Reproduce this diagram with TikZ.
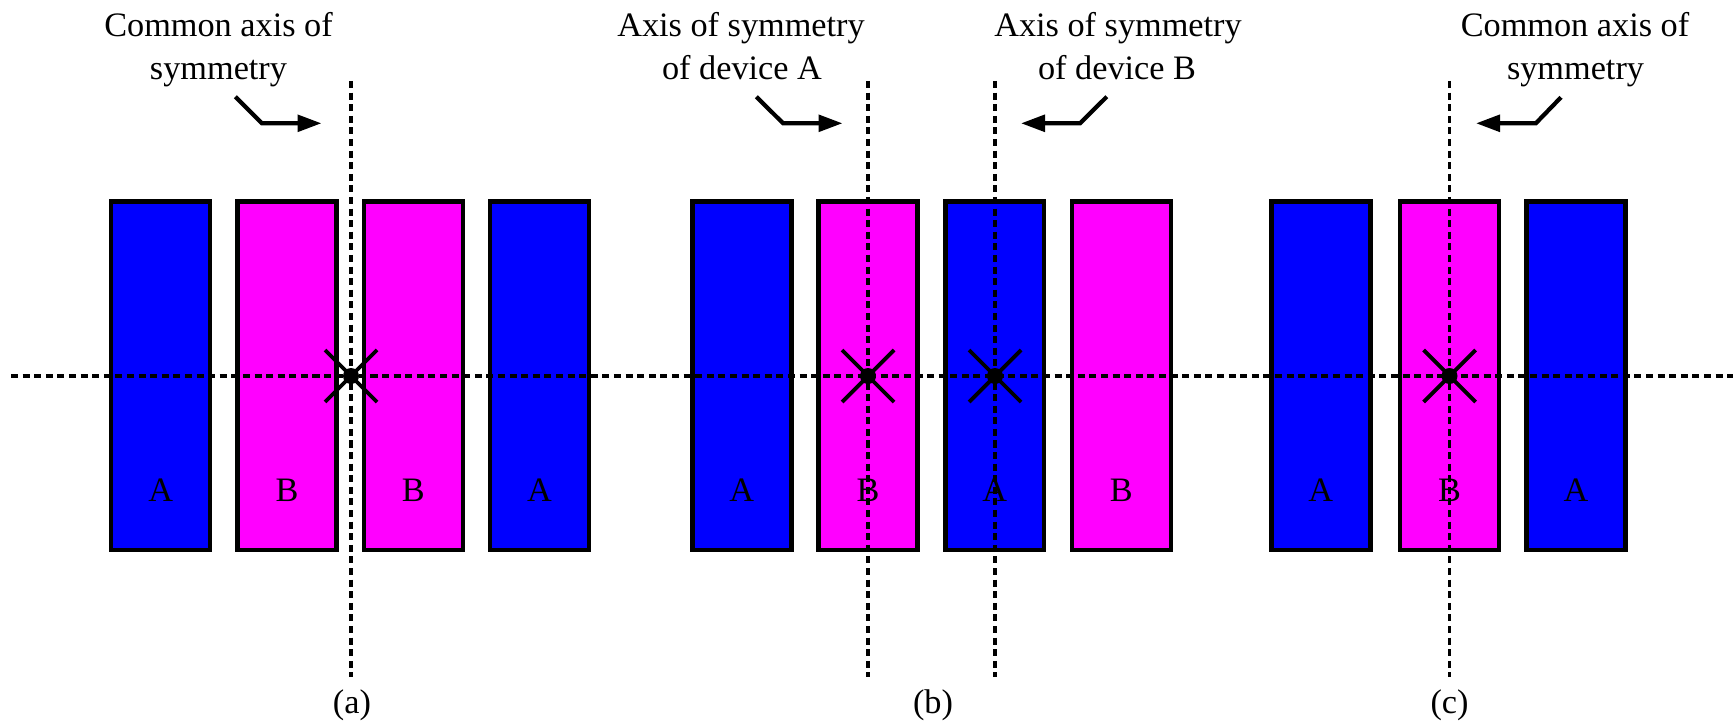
\documentclass[tikz,border=0pt]{standalone}
\usepackage{fontspec}
\setmainfont{Liberation Serif}
\usetikzlibrary{arrows.meta}
\definecolor{devblue}{RGB}{0,0,255}
\definecolor{devmag}{RGB}{255,0,255}
\begin{document}
\begin{tikzpicture}[x=0.02cm,y=-0.02cm,
  dev/.style={draw=black, line width=2.6pt, minimum width=1.98cm, minimum height=6.97cm, inner sep=0pt, outer sep=0pt},
  devA/.style={dev, fill=devblue},
  devB/.style={dev, fill=devmag},
  txt/.style={font=\fontsize{19.5}{24}\selectfont, anchor=base, inner sep=0pt},
  axisline/.style={line width=2.2pt, dash pattern=on 4pt off 2.6pt},
  ptr/.style={line width=2.4pt, -{Triangle[length=0.48cm,width=0.33cm]}},
  crossline/.style={line width=2.2pt},
  dot/.style={fill=black}
]
\useasboundingbox (0,0) rectangle (1733,723);

% --- devices (a)
\node[devA] (a1) at (160.7,375.8) {};
\node[devB] (a2) at (287,375.8) {};
\node[devB] (a3) at (413.3,375.8) {};
\node[devA] (a4) at (539.5,375.8) {};
% --- devices (b)
\node[devA] (b1) at (741.8,375.8) {};
\node[devB] (b2) at (868,375.8) {};
\node[devA] (b3) at (994.7,375.8) {};
\node[devB] (b4) at (1121.3,375.8) {};
% --- devices (c)
\node[devA] (c1) at (1320.8,375.8) {};
\node[devB] (c2) at (1449.5,375.8) {};
\node[devA] (c3) at (1576,375.8) {};

% device letters
\node[txt] (la1) at (160.7,501.5) {A};
\node[txt] (la2) at (287,501.5) {B};
\node[txt] (la3) at (413.3,501.5) {B};
\node[txt] (la4) at (539.5,501.5) {A};
\node[txt] (lb1) at (741.8,501.5) {A};
\node[txt] (lb2) at (868,501.5) {B};
\node[txt] (lb3) at (994.7,501.5) {A};
\node[txt] (lb4) at (1121.3,501.5) {B};
\node[txt] (lc1) at (1320.8,501.5) {A};
\node[txt] (lc2) at (1449.5,501.5) {B};
\node[txt] (lc3) at (1576,501.5) {A};

% horizontal axis
\coordinate (hl) at (11,376);
\coordinate (hr) at (1733,376);
\draw[axisline] (hl) -- (hr);

% vertical axes
\coordinate (vaT) at (351,81);   \coordinate (vaB) at (351,677);
\coordinate (vbAT) at (868,81);  \coordinate (vbAB) at (868,677);
\coordinate (vbBT) at (995,81);  \coordinate (vbBB) at (995,677);
\coordinate (vcT) at (1449.5,81); \coordinate (vcB) at (1449.5,677);
\draw[axisline] (vaT) -- (vaB);
\draw[axisline] (vbAT) -- (vbAB);
\draw[axisline] (vbBT) -- (vbBB);
\draw[axisline] (vcT) -- (vcB);

% centres of symmetry
\coordinate (oa) at (351,376);
\coordinate (obA) at (868,376);
\coordinate (obB) at (995,376);
\coordinate (oc) at (1449.5,376);
\foreach \o in {oa,obA,obB,oc}{
  \draw[crossline] ([shift={(-26,-26)}]\o) -- ([shift={(26,26)}]\o);
  \draw[crossline] ([shift={(-26,26)}]\o) -- ([shift={(26,-26)}]\o);
  \fill[dot] (\o) circle[radius=0.16cm];
}

% annotations
\node[txt] (ta1) at (218.5,36.7) {Common axis of};
\node[txt] (ta2) at (218.5,80) {symmetry};
\node[txt] (tbA1) at (741,36.7) {Axis of symmetry};
\node[txt] (tbA2) at (742,80) {of device A};
\node[txt] (tbB1) at (1118,36.7) {Axis of symmetry};
\node[txt] (tbB2) at (1117,80) {of device B};
\node[txt] (tc1) at (1575,36.7) {Common axis of};
\node[txt] (tc2) at (1575.5,80) {symmetry};

% pointer arrows
\coordinate (pa0) at (235.4,96.7);  \coordinate (pa1) at (262,123.3);  \coordinate (pa2) at (321.5,123.3);
\coordinate (pbA0) at (756.3,96.7); \coordinate (pbA1) at (783.1,123.3); \coordinate (pbA2) at (842.5,123.3);
\coordinate (pbB0) at (1106.8,96.7); \coordinate (pbB1) at (1080,123.3); \coordinate (pbB2) at (1021,123.3);
\coordinate (pc0) at (1561,97.3);   \coordinate (pc1) at (1535.8,123.3); \coordinate (pc2) at (1476,123.3);
\draw[ptr] (pa0) -- (pa1) -- (pa2);
\draw[ptr] (pbA0) -- (pbA1) -- (pbA2);
\draw[ptr] (pbB0) -- (pbB1) -- (pbB2);
\draw[ptr] (pc0) -- (pc1) -- (pc2);

% captions
\node[txt, anchor=center] (capa) at (352,705) {(a)};
\node[txt, anchor=center] (capb) at (933,705) {(b)};
\node[txt, anchor=center] (capc) at (1449.5,705) {(c)};
\end{tikzpicture}
\end{document}
